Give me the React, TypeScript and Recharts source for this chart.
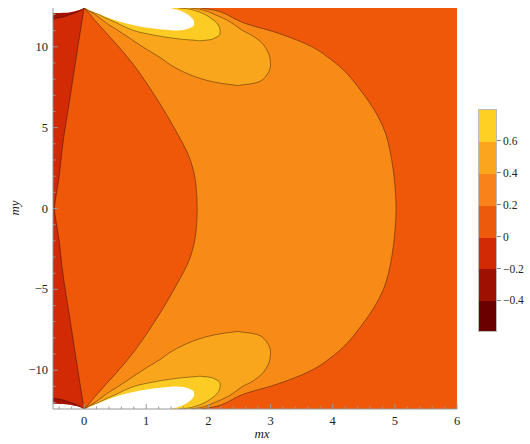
import React from 'react';
import { ComposedChart, Area, XAxis, YAxis, CartesianGrid } from 'recharts';

type Row = { y: number; x: [number, number] };

const X_DOMAIN: [number, number] = [-0.5, 6];
const Y_DOMAIN: [number, number] = [-12.4, 12.4];

// contour bands as [left, right] spans per my-level
const dRegion: Row[] = [
  { y: -12.4, x: [0, 1.87] },
  { y: -12.29, x: [0.03, 2.06] },
  { y: -12.04, x: [0.09, 2.27] },
  { y: -11.8, x: [0.14, 2.39] },
  { y: -11.49, x: [0.21, 2.56] },
  { y: -10.93, x: [0.34, 3.05] },
  { y: -10.12, x: [0.53, 3.6] },
  { y: -9.07, x: [0.76, 4.02] },
  { y: -7.15, x: [1.11, 4.48] },
  { y: -5.05, x: [1.44, 4.81] },
  { y: -3, x: [1.71, 4.95] },
  { y: -1.46, x: [1.8, 5.0] },
  { y: 0, x: [1.82, 5.02] },
  { y: 1.46, x: [1.8, 5.0] },
  { y: 3, x: [1.71, 4.95] },
  { y: 5.05, x: [1.44, 4.81] },
  { y: 7.15, x: [1.11, 4.48] },
  { y: 9.07, x: [0.76, 4.02] },
  { y: 10.12, x: [0.53, 3.6] },
  { y: 10.93, x: [0.34, 3.05] },
  { y: 11.49, x: [0.21, 2.56] },
  { y: 11.8, x: [0.14, 2.39] },
  { y: 12.04, x: [0.09, 2.27] },
  { y: 12.29, x: [0.03, 2.06] },
  { y: 12.4, x: [0, 1.87] },
];

const lobe4Top: Row[] = [
  { y: 7.6, x: [2.47, 2.47] },
  { y: 7.647, x: [2.39, 2.55] },
  { y: 7.709, x: [2.26, 2.68] },
  { y: 7.833, x: [2.08, 2.81] },
  { y: 8.08, x: [1.84, 2.9] },
  { y: 8.452, x: [1.6, 2.97] },
  { y: 8.885, x: [1.39, 3.0] },
  { y: 9.319, x: [1.23, 2.99] },
  { y: 9.814, x: [1.02, 2.94] },
  { y: 10.309, x: [0.82, 2.84] },
  { y: 10.681, x: [0.68, 2.71] },
  { y: 11.053, x: [0.53, 2.53] },
  { y: 11.362, x: [0.4, 2.42] },
  { y: 11.672, x: [0.29, 2.29] },
  { y: 11.981, x: [0.18, 2.11] },
  { y: 12.229, x: [0.08, 1.95] },
  { y: 12.353, x: [0.03, 1.81] },
  { y: 12.4, x: [0, 1.71] },
];

const lobe4Bottom: Row[] = [
  { y: -12.4, x: [0, 1.71] },
  { y: -12.353, x: [0.03, 1.81] },
  { y: -12.229, x: [0.08, 1.95] },
  { y: -11.981, x: [0.18, 2.11] },
  { y: -11.672, x: [0.29, 2.29] },
  { y: -11.362, x: [0.4, 2.42] },
  { y: -11.053, x: [0.53, 2.53] },
  { y: -10.681, x: [0.68, 2.71] },
  { y: -10.309, x: [0.82, 2.84] },
  { y: -9.814, x: [1.02, 2.94] },
  { y: -9.319, x: [1.23, 2.99] },
  { y: -8.885, x: [1.39, 3.0] },
  { y: -8.452, x: [1.6, 2.97] },
  { y: -8.08, x: [1.84, 2.9] },
  { y: -7.833, x: [2.08, 2.81] },
  { y: -7.709, x: [2.26, 2.68] },
  { y: -7.647, x: [2.39, 2.55] },
  { y: -7.6, x: [2.47, 2.47] },
];

const lobe6Top: Row[] = [
  { y: 10.37, x: [1.86, 1.86] },
  { y: 10.402, x: [1.79, 1.94] },
  { y: 10.433, x: [1.68, 2.02] },
  { y: 10.557, x: [1.39, 2.11] },
  { y: 10.743, x: [1.1, 2.18] },
  { y: 10.929, x: [0.87, 2.19] },
  { y: 11.176, x: [0.69, 2.18] },
  { y: 11.486, x: [0.52, 2.13] },
  { y: 11.796, x: [0.34, 2.03] },
  { y: 12.043, x: [0.21, 1.92] },
  { y: 12.229, x: [0.08, 1.79] },
  { y: 12.353, x: [0.03, 1.65] },
  { y: 12.4, x: [0, 1.52] },
];

const lobe6Bottom: Row[] = [
  { y: -12.4, x: [0, 1.52] },
  { y: -12.353, x: [0.03, 1.65] },
  { y: -12.229, x: [0.08, 1.79] },
  { y: -12.043, x: [0.21, 1.92] },
  { y: -11.796, x: [0.34, 2.03] },
  { y: -11.486, x: [0.52, 2.13] },
  { y: -11.176, x: [0.69, 2.18] },
  { y: -10.929, x: [0.87, 2.19] },
  { y: -10.743, x: [1.1, 2.18] },
  { y: -10.557, x: [1.39, 2.11] },
  { y: -10.433, x: [1.68, 2.02] },
  { y: -10.402, x: [1.79, 1.94] },
  { y: -10.37, x: [1.86, 1.86] },
];

const whiteTop: Row[] = [
  { y: 10.995, x: [1.475, 1.475] },
  { y: 11.022, x: [1.42, 1.53] },
  { y: 11.053, x: [1.31, 1.61] },
  { y: 11.176, x: [1.03, 1.71] },
  { y: 11.362, x: [0.77, 1.77] },
  { y: 11.548, x: [0.58, 1.77] },
  { y: 11.796, x: [0.39, 1.73] },
  { y: 12.043, x: [0.23, 1.65] },
  { y: 12.229, x: [0.11, 1.55] },
  { y: 12.4, x: [0.02, 1.39] },
];

const whiteBottom: Row[] = [
  { y: -12.4, x: [0.02, 1.39] },
  { y: -12.229, x: [0.11, 1.55] },
  { y: -12.043, x: [0.23, 1.65] },
  { y: -11.796, x: [0.39, 1.73] },
  { y: -11.548, x: [0.58, 1.77] },
  { y: -11.362, x: [0.77, 1.77] },
  { y: -11.176, x: [1.03, 1.71] },
  { y: -11.053, x: [1.31, 1.61] },
  { y: -11.022, x: [1.42, 1.53] },
  { y: -10.995, x: [1.475, 1.475] },
];

const redStrip: Row[] = [
  { y: -12.4, x: [-0.5, 0] },
  { y: -10, x: [-0.5, -0.1] },
  { y: -7, x: [-0.5, -0.22] },
  { y: -3.6, x: [-0.5, -0.355] },
  { y: -2, x: [-0.5, -0.4] },
  { y: -0.8, x: [-0.5, -0.45] },
  { y: 0, x: [-0.5, -0.475] },
  { y: 0.8, x: [-0.5, -0.45] },
  { y: 2, x: [-0.5, -0.4] },
  { y: 3.6, x: [-0.5, -0.355] },
  { y: 7, x: [-0.5, -0.22] },
  { y: 10, x: [-0.5, -0.1] },
  { y: 12.4, x: [-0.5, 0] },
];

const darkRedTop: Row[] = [
  { y: 11.73, x: [-0.5, -0.5] },
  { y: 11.8, x: [-0.5, -0.39] },
  { y: 11.98, x: [-0.5, -0.23] },
  { y: 12.17, x: [-0.5, -0.1] },
  { y: 12.4, x: [-0.5, 0] },
];

const darkRedBottom: Row[] = [
  { y: -12.4, x: [-0.5, 0] },
  { y: -12.17, x: [-0.5, -0.1] },
  { y: -11.98, x: [-0.5, -0.23] },
  { y: -11.8, x: [-0.5, -0.39] },
  { y: -11.73, x: [-0.5, -0.5] },
];

const cornerTop: Row[] = [
  { y: 12.07, x: [-0.5, -0.5] },
  { y: 12.1, x: [-0.5, -0.31] },
  { y: 12.2, x: [-0.5, -0.15] },
  { y: 12.35, x: [-0.5, -0.03] },
  { y: 12.4, x: [-0.5, -0.01] },
];

const cornerBottom: Row[] = [
  { y: -12.4, x: [-0.5, -0.01] },
  { y: -12.35, x: [-0.5, -0.03] },
  { y: -12.2, x: [-0.5, -0.15] },
  { y: -12.1, x: [-0.5, -0.31] },
  { y: -12.07, x: [-0.5, -0.5] },
];

const xTicks = [
  -0.4, -0.2, 0, 0.2, 0.4, 0.6, 0.8, 1, 1.2, 1.4, 1.6, 1.8, 2, 2.2, 2.4, 2.6, 2.8,
  3, 3.2, 3.4, 3.6, 3.8, 4, 4.2, 4.4, 4.6, 4.8, 5, 5.2, 5.4, 5.6, 5.8, 6,
];
const yTicks = [
  -12, -11, -10, -9, -8, -7, -6, -5, -4, -3, -2, -1, 0, 1, 2, 3, 4, 5, 6, 7, 8, 9, 10, 11, 12,
];

const legendColors = ['#fdd023', '#fba51e', '#f9821a', '#ee5a0c', '#d22a04', '#9e1000', '#6a0000'];
const legendLabels = ['0.6', '0.4', '0.2', '0', '\u22120.2', '\u22120.4'];

const BG = '#ee5808';
const FRAME = '#999';
const FONT = '"Liberation Serif", "DejaVu Serif", serif';

const fmt = (v: number) => (v < 0 ? `\u2212${-v}` : `${v}`);
const isMajorX = (v: number) => Math.abs(v - Math.round(v)) < 1e-6;
const isMajorY = (v: number) => v % 5 === 0;

const BottomTick = ({ x, y, payload }: any) => {
  const major = isMajorX(payload.value);
  return (
    <g>
      <line x1={x} x2={x} y1={y} y2={y - (major ? 5 : 2.5)} stroke={FRAME} />
      {major && (
        <text x={x} y={y + 16} textAnchor="middle" fontFamily={FONT} fontSize={12.5} fill="#222">
          {fmt(Math.round(payload.value))}
        </text>
      )}
    </g>
  );
};

const TopTick = ({ x, y, payload }: any) => {
  const major = isMajorX(payload.value);
  return <line x1={x} x2={x} y1={y} y2={y + (major ? 5 : 2.5)} stroke={FRAME} />;
};

const LeftTick = ({ x, y, payload }: any) => {
  const major = isMajorY(payload.value);
  return (
    <g>
      <line x1={x} x2={x + (major ? 5 : 2.5)} y1={y} y2={y} stroke={FRAME} />
      {major && (
        <text x={x - 5} y={y + 4} textAnchor="end" fontFamily={FONT} fontSize={12.5} fill="#222">
          {fmt(payload.value)}
        </text>
      )}
    </g>
  );
};

const RightTick = ({ x, y, payload }: any) => {
  const major = isMajorY(payload.value);
  return <line x1={x} x2={x - (major ? 5 : 2.5)} y1={y} y2={y} stroke={FRAME} />;
};

function ColorBar() {
  const top = 109;
  const band = 31.9;
  return (
    <>
      <div
        style={{
          position: 'absolute',
          left: 478,
          top,
          width: 19,
          height: band * legendColors.length,
          border: '1px solid #bbb',
          boxSizing: 'border-box',
          overflow: 'hidden',
        }}
      >
        {legendColors.map((c) => (
          <div key={c} style={{ height: band, background: c }} />
        ))}
      </div>
      {legendLabels.map((l, i) => {
        const ty = top + band * (i + 1);
        return (
          <React.Fragment key={l}>
            <div style={{ position: 'absolute', left: 497, top: ty - 0.5, width: 4, height: 1, background: '#888' }} />
            <div
              style={{
                position: 'absolute',
                left: 503,
                top: ty - 8,
                fontFamily: FONT,
                fontSize: 11.5,
                lineHeight: '16px',
                color: '#222',
              }}
            >
              {l}
            </div>
          </React.Fragment>
        );
      })}
    </>
  );
}

export default function App() {
  const area = (data: Row[], fill: string, key: string, stroke = true) => (
    <Area
      key={key}
      data={data}
      dataKey="x"
      type="monotone"
      fill={fill}
      fillOpacity={1}
      stroke={stroke ? '#000' : 'none'}
      strokeOpacity={0.42}
      strokeWidth={0.9}
      dot={false}
      activeDot={false}
      isAnimationActive={false}
    />
  );

  return (
    <div style={{ position: 'absolute', left: 0, top: 0, width: 530, height: 444, background: '#fff' }}>
      <ComposedChart
        width={530}
        height={444}
        layout="vertical"
        margin={{ top: 8, right: 73, bottom: 0, left: 0 }}
      >
        <CartesianGrid horizontal={false} vertical={false} fill={BG} fillOpacity={1} />
        <XAxis
          type="number"
          domain={X_DOMAIN}
          allowDataOverflow
          ticks={xTicks}
          interval={0}
          height={35}
          tickSize={0}
          tickMargin={0}
          tick={<BottomTick />}
          axisLine={{ stroke: FRAME }}
        />
        <XAxis
          xAxisId="top"
          orientation="top"
          type="number"
          domain={X_DOMAIN}
          allowDataOverflow
          ticks={xTicks}
          interval={0}
          height={0}
          tickSize={0}
          tickMargin={0}
          tick={<TopTick />}
          axisLine={{ stroke: FRAME }}
        />
        <YAxis
          type="number"
          dataKey="y"
          domain={Y_DOMAIN}
          allowDataOverflow
          reversed
          ticks={yTicks}
          interval={0}
          width={53}
          tickSize={0}
          tickMargin={0}
          tick={<LeftTick />}
          axisLine={{ stroke: FRAME }}
        />
        <YAxis
          yAxisId="right"
          orientation="right"
          type="number"
          domain={Y_DOMAIN}
          allowDataOverflow
          reversed
          ticks={yTicks}
          interval={0}
          width={0}
          tickSize={0}
          tickMargin={0}
          tick={<RightTick />}
          axisLine={{ stroke: FRAME }}
        />
        {area(dRegion, '#f88a16', 'd')}
        {area(lobe4Top, '#faa61c', 'l4t')}
        {area(lobe4Bottom, '#faa61c', 'l4b')}
        {area(lobe6Top, '#fdcc24', 'l6t')}
        {area(lobe6Bottom, '#fdcc24', 'l6b')}
        {area(whiteTop, '#ffffff', 'wt', false)}
        {area(whiteBottom, '#ffffff', 'wb', false)}
        {area(redStrip, '#d22a04', 'red')}
        {area(darkRedTop, '#a31200', 'drt')}
        {area(darkRedBottom, '#a31200', 'drb')}
        {area(cornerTop, '#ffffff', 'ct', false)}
        {area(cornerBottom, '#ffffff', 'cb', false)}
      </ComposedChart>
      <ColorBar />
      <div
        style={{
          position: 'absolute',
          left: 240,
          top: 426,
          width: 44,
          textAlign: 'center',
          fontFamily: FONT,
          fontStyle: 'italic',
          fontSize: 13,
          color: '#222',
        }}
      >
        mx
      </div>
      <div
        style={{
          position: 'absolute',
          left: -7,
          top: 200,
          width: 44,
          textAlign: 'center',
          fontFamily: FONT,
          fontStyle: 'italic',
          fontSize: 13,
          color: '#222',
          transform: 'rotate(-90deg)',
        }}
      >
        my
      </div>
    </div>
  );
}
